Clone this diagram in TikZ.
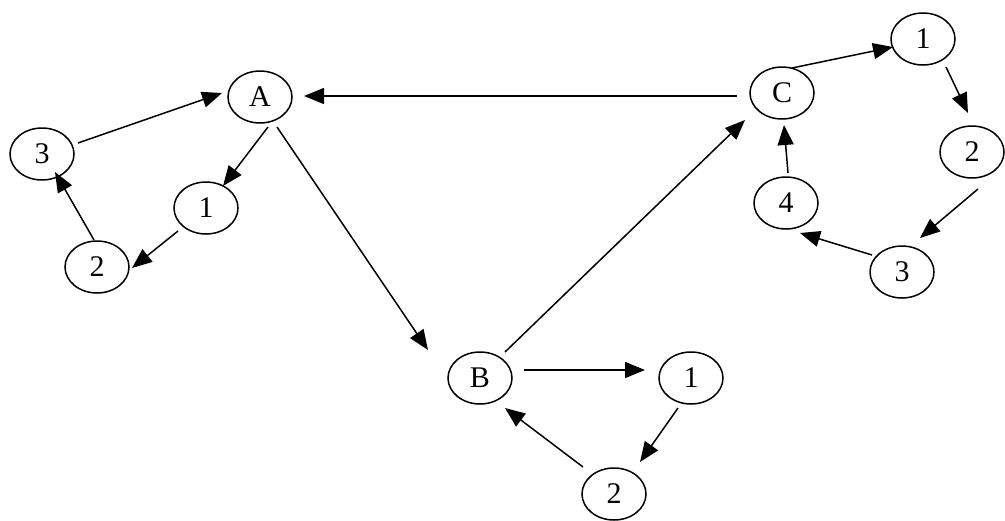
\documentclass[tikz,border=0pt]{standalone}
\usepackage{fontspec}
\setmainfont{Liberation Serif}
\usetikzlibrary{shapes.geometric,arrows.meta}
\newcommand{\nodefont}{\fontsize{30pt}{30pt}\selectfont}
\begin{document}
\begin{tikzpicture}[x=1pt,y=-1pt,
  st/.style={ellipse,draw,line width=1.5pt,minimum width=64pt,minimum height=52pt,inner sep=0pt,font=\nodefont},
  arr/.style={line width=1.5pt,-{Triangle[length=20pt,width=16pt]}}]
\useasboundingbox (0,0) rectangle (1005,520);
% left cluster
\node[st] (A) at (260,97) {A};
\node[st] (L3) at (42,154) {3};
\node[st] (L1) at (206,208) {1};
\node[st] (L2) at (97,267) {2};
% right cluster
\node[st] (C) at (782,93) {C};
\node[st] (R1) at (923,39) {1};
\node[st] (R2) at (972,152) {2};
\node[st] (R3) at (902,272) {3};
\node[st] (R4) at (786,203) {4};
% bottom cluster
\node[st] (B) at (480,378) {B};
\node[st] (B1) at (691,378) {1};
\node[st] (B2) at (614,494) {2};
% connectors
\draw[arr] ([shift={(36,-11)}]L3.center) -- ([shift={(-38,-4)}]A.center);
\draw[arr] ([shift={(8,30)}]A.center) -- ([shift={(17,-22)}]L1.center);
\draw[arr] ([shift={(-28,23)}]L1.center) -- ([shift={(35,1)}]L2.center);
\draw[arr] ([shift={(-3,-27)}]L2.center) -- ([shift={(13,18)}]L3.center);
\draw[arr] ([shift={(17,30)}]A.center) -- ([shift={(-52,-28)}]B.center);
\draw[arr] ([shift={(-45,3)}]C.center) -- ([shift={(44,-1)}]A.center);
\draw[arr] ([shift={(25,-26)}]B.center) -- ([shift={(-37,27)}]C.center);
\draw[arr] ([shift={(10,-25)}]C.center) -- ([shift={(-30,8)}]R1.center);
\draw[arr] ([shift={(23,28)}]R1.center) -- ([shift={(-4,-39)}]R2.center);
\draw[arr] ([shift={(6,37)}]R2.center) -- ([shift={(18,-34)}]R3.center);
\draw[arr] ([shift={(-30,-17)}]R3.center) -- ([shift={(14,30)}]R4.center);
\draw[arr] ([shift={(2,-30)}]R4.center) -- ([shift={(2,32)}]C.center);
\draw[arr] ([shift={(44,-8)}]B.center) -- ([shift={(-46,-8)}]B1.center);
\draw[arr] ([shift={(-13,30)}]B1.center) -- ([shift={(26,-32)}]B2.center);
\draw[arr] ([shift={(-31,-27)}]B2.center) -- ([shift={(25,30)}]B.center);
\end{tikzpicture}
\end{document}
